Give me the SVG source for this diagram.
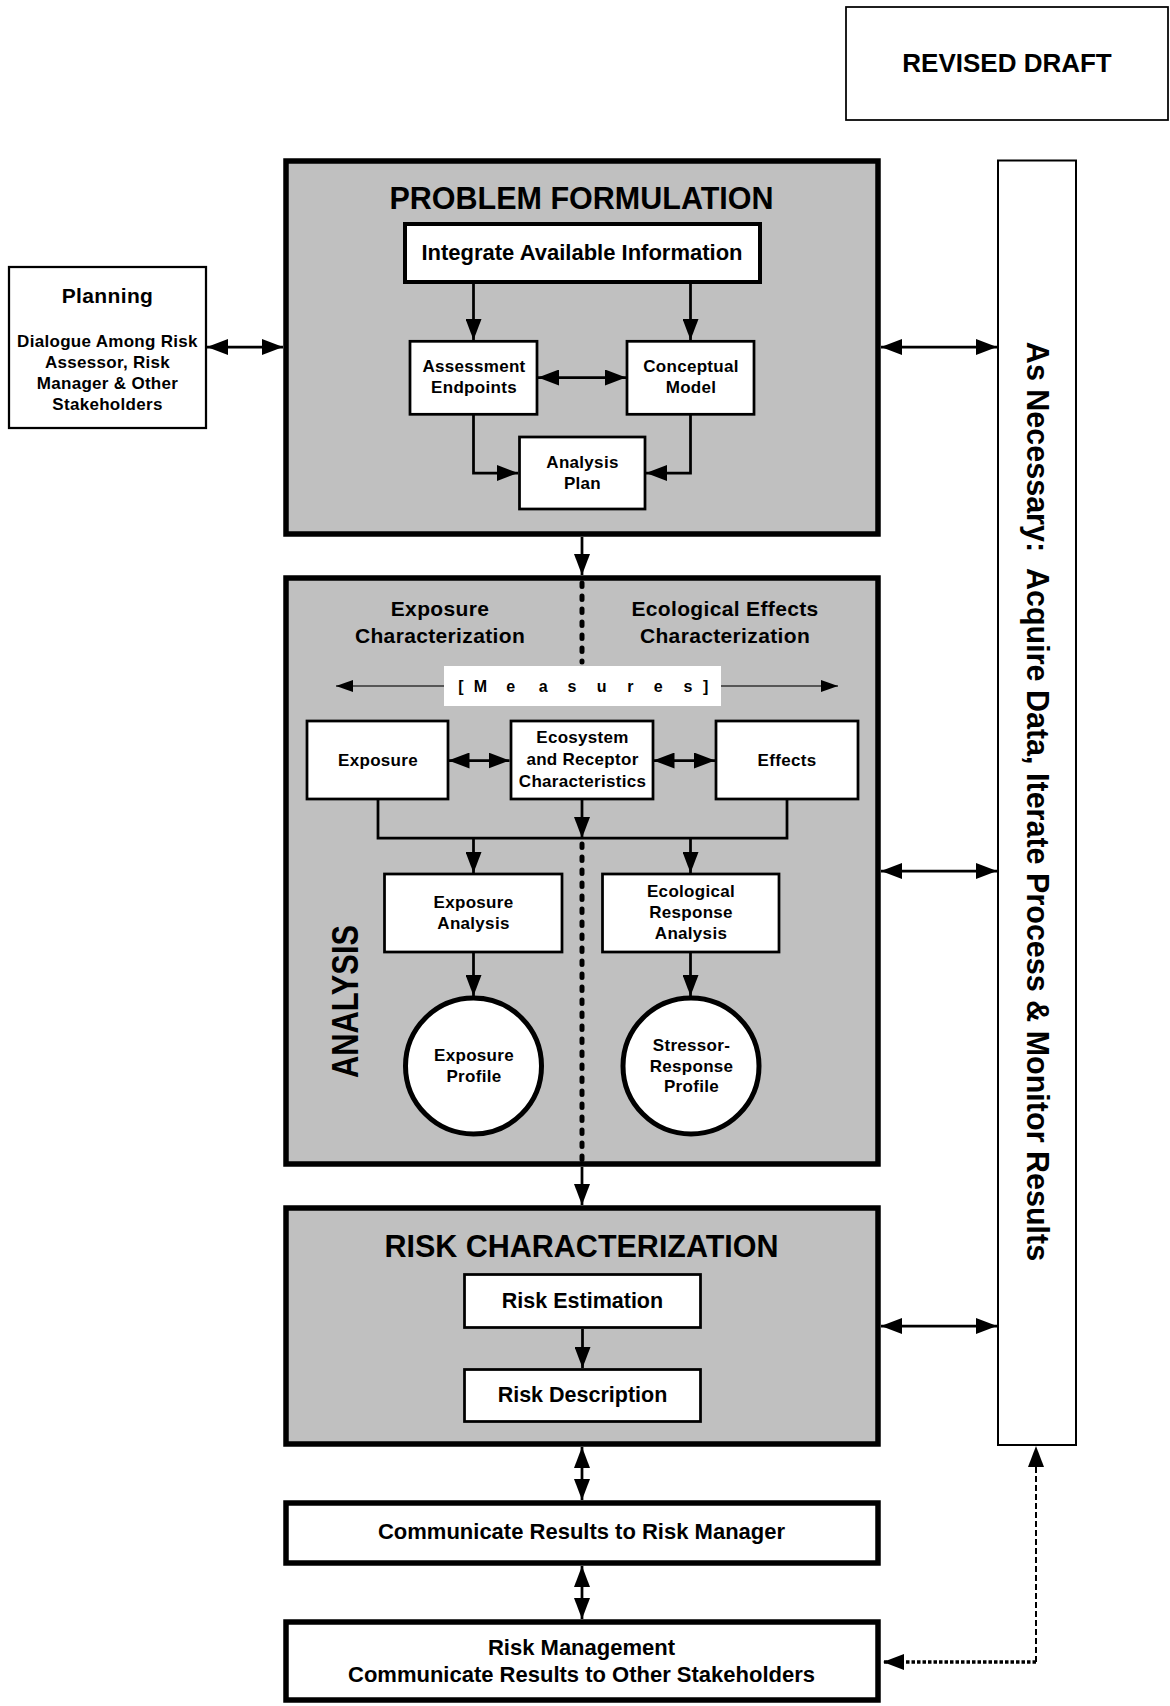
<svg xmlns="http://www.w3.org/2000/svg" width="1170" height="1706" viewBox="0 0 1170 1706">
<defs>
<style>
text{font-family:"Liberation Sans",Arial,sans-serif;font-weight:bold;fill:#000;text-anchor:middle}
.big{fill:#c0c0c0;stroke:#000;stroke-width:5.5}
.thickw{fill:#fff;stroke:#000;stroke-width:5.5}
.box{fill:#fff;stroke:#000;stroke-width:2.75}
.ln{fill:none;stroke:#000;stroke-width:2.75}
.s16{font-size:17px;letter-spacing:0.3px}
.s20{font-size:21px;letter-spacing:0.35px}
.s22{font-size:22px}
.title{font-size:30.5px}
</style>
<marker id="ah" markerUnits="userSpaceOnUse" viewBox="0 0 21 16" markerWidth="21" markerHeight="16" refX="21" refY="8" orient="auto-start-reverse"><path d="M0,0 L21,8 L0,16 z" fill="#000" stroke="none"/></marker>
<marker id="ahs" markerUnits="userSpaceOnUse" viewBox="0 0 17 12" markerWidth="17" markerHeight="12" refX="17" refY="6" orient="auto-start-reverse"><path d="M0,0 L17,6 L0,12 z" fill="#000" stroke="none"/></marker>
</defs>
<rect width="1170" height="1706" fill="#fff"/>

<g id="revised-draft">
<rect x="846" y="7" width="322" height="113" fill="#fff" stroke="#000" stroke-width="1.75"/>
<text x="1007" y="72" style="font-size:26px">REVISED DRAFT</text>
</g>

<g id="problem-formulation">
<rect class="big" x="286" y="161" width="592" height="373"/>
<text class="title" x="581.5" y="209">PROBLEM FORMULATION</text>
</g>

<g id="analysis">
<rect class="big" x="286" y="578" width="592" height="586"/>
<text transform="translate(358,1001.5) rotate(-90)" x="0" y="0" style="font-size:36px" textLength="153" lengthAdjust="spacingAndGlyphs">ANALYSIS</text>
<text class="s20" x="440" y="616">Exposure</text>
<text class="s20" x="440" y="643">Characterization</text>
<text class="s20" x="725" y="616">Ecological Effects</text>
<text class="s20" x="725" y="643">Characterization</text>
</g>

<g id="risk-characterization">
<rect class="big" x="286" y="1208" width="592" height="236"/>
<text class="title" x="581.5" y="1257">RISK CHARACTERIZATION</text>
</g>

<g id="communicate-risk-manager">
<rect class="thickw" x="286" y="1503" width="592" height="60"/>
<text class="s22" x="581.5" y="1539">Communicate Results to Risk Manager</text>
</g>

<g id="risk-management">
<rect class="thickw" x="286" y="1622" width="592" height="78"/>
<text class="s22" x="581.5" y="1655">Risk Management</text>
<text class="s22" x="581.5" y="1681.5">Communicate Results to Other Stakeholders</text>
</g>

<g id="as-necessary">
<rect x="998" y="160.5" width="78" height="1284.5" fill="#fff" stroke="#000" stroke-width="2"/>
<text transform="translate(1027,801.5) rotate(90)" x="0" y="0" style="font-size:30.5px" xml:space="preserve">As Necessary:  Acquire Data, Iterate Process &amp; Monitor Results</text>
</g>

<g id="planning">
<rect x="9" y="267" width="197" height="161" fill="#fff" stroke="#000" stroke-width="2.25"/>
<text class="s20" x="107.5" y="303">Planning</text>
<text class="s16" x="107.5" y="347">Dialogue Among Risk</text>
<text class="s16" x="107.5" y="368">Assessor, Risk</text>
<text class="s16" x="107.5" y="389">Manager &amp; Other</text>
<text class="s16" x="107.5" y="410">Stakeholders</text>
</g>

<g id="integrate-info">
<rect x="405" y="224" width="355" height="58" fill="#fff" stroke="#000" stroke-width="4"/>
<text class="s22" x="582" y="260">Integrate Available Information</text>
</g>

<g id="assessment-endpoints">
<rect class="box" x="410" y="341.3" width="127" height="73"/>
<text class="s16" x="474" y="372">Assessment</text>
<text class="s16" x="474" y="392.5">Endpoints</text>
</g>

<g id="conceptual-model">
<rect class="box" x="627" y="341.3" width="127" height="73"/>
<text class="s16" x="691" y="372">Conceptual</text>
<text class="s16" x="691" y="393">Model</text>
</g>

<g id="analysis-plan">
<rect class="box" x="519.5" y="437" width="125.5" height="72"/>
<text class="s16" x="582.5" y="468">Analysis</text>
<text class="s16" x="582.5" y="488.5">Plan</text>
</g>

<g id="measures">
<rect x="444" y="666" width="277" height="40" fill="#fff"/>
<text style="font-size:16px" y="692" x="460.8 470.5 480.3 495.5 510.7 527 543.3 557.7 572 587 601.7 616 630.3 644.3 658.3 673.2 688 697 705.7">[ M e a s u r e s ]</text>
</g>

<g id="exposure">
<rect class="box" x="307" y="721" width="141" height="78"/>
<text class="s16" x="378" y="765.5">Exposure</text>
</g>

<g id="ecosystem-receptor">
<rect class="box" x="511" y="721" width="142" height="78"/>
<text class="s16" x="582.5" y="743">Ecosystem</text>
<text class="s16" x="582.5" y="765">and Receptor</text>
<text class="s16" x="582.5" y="787">Characteristics</text>
</g>

<g id="effects">
<rect class="box" x="716" y="721" width="142" height="78"/>
<text class="s16" x="787" y="765.5">Effects</text>
</g>

<g id="exposure-analysis">
<rect class="box" x="384.5" y="874" width="177.5" height="78"/>
<text class="s16" x="473.5" y="908">Exposure</text>
<text class="s16" x="473.5" y="928.5">Analysis</text>
</g>

<g id="ecological-response-analysis">
<rect class="box" x="602.5" y="874" width="176.5" height="78"/>
<text class="s16" x="691" y="897">Ecological</text>
<text class="s16" x="691" y="918">Response</text>
<text class="s16" x="691" y="939">Analysis</text>
</g>

<g id="exposure-profile">
<circle cx="473.5" cy="1066" r="68" fill="#fff" stroke="#000" stroke-width="5"/>
<text class="s16" x="474" y="1061">Exposure</text>
<text class="s16" x="474" y="1082">Profile</text>
</g>

<g id="stressor-response-profile">
<circle cx="691" cy="1066" r="68" fill="#fff" stroke="#000" stroke-width="5"/>
<text class="s16" x="691.5" y="1051">Stressor-</text>
<text class="s16" x="691.5" y="1071.5">Response</text>
<text class="s16" x="691.5" y="1092">Profile</text>
</g>

<g id="risk-estimation">
<rect class="box" x="464.5" y="1274.5" width="236" height="53"/>
<text x="582.5" y="1308" style="font-size:21.5px">Risk Estimation</text>
</g>

<g id="risk-description">
<rect class="box" x="464.5" y="1369.5" width="236" height="52"/>
<text x="582.5" y="1402" style="font-size:21.5px">Risk Description</text>
</g>

<g id="connectors">
<path class="ln" d="M473.5,284 V340" marker-end="url(#ah)"/>
<path class="ln" d="M690.5,284 V340" marker-end="url(#ah)"/>
<path class="ln" d="M538,377.5 H626" marker-start="url(#ah)" marker-end="url(#ah)"/>
<path class="ln" d="M473.5,415 V473 H518" marker-end="url(#ah)"/>
<path class="ln" d="M690.5,415 V473 H646" marker-end="url(#ah)"/>
<path class="ln" d="M207,347 H283" marker-start="url(#ah)" marker-end="url(#ah)"/>
<path class="ln" d="M881,347 H997" marker-start="url(#ah)" marker-end="url(#ah)"/>
<path class="ln" d="M582,537 V575" marker-end="url(#ah)"/>
<path d="M582,583 V662" fill="none" stroke="#000" stroke-width="5" stroke-linecap="round" stroke-dasharray="3.5 9.5"/>
<path d="M582,844 V1162" fill="none" stroke="#000" stroke-width="5" stroke-linecap="round" stroke-dasharray="3.5 9.5"/>
<path d="M444,686 H336" fill="none" stroke="#333" stroke-width="1.5" marker-end="url(#ahs)"/>
<path d="M721,686 H838" fill="none" stroke="#333" stroke-width="1.5" marker-end="url(#ahs)"/>
<path class="ln" d="M448.5,760.5 H509.5" marker-start="url(#ah)" marker-end="url(#ah)"/>
<path class="ln" d="M653.5,760.5 H715" marker-start="url(#ah)" marker-end="url(#ah)"/>
<path class="ln" d="M378,799 V838 H787 V799"/>
<path class="ln" d="M582,799 V838" marker-end="url(#ah)"/>
<path class="ln" d="M473.5,838 V873" marker-end="url(#ah)"/>
<path class="ln" d="M690.5,838 V873" marker-end="url(#ah)"/>
<path class="ln" d="M473.5,953 V996" marker-end="url(#ah)"/>
<path class="ln" d="M690.5,953 V996" marker-end="url(#ah)"/>
<path class="ln" d="M881,871 H997" marker-start="url(#ah)" marker-end="url(#ah)"/>
<path class="ln" d="M582,1167 V1205" marker-end="url(#ah)"/>
<path class="ln" d="M582.5,1329 V1368" marker-end="url(#ah)"/>
<path class="ln" d="M881,1326 H997" marker-start="url(#ah)" marker-end="url(#ah)"/>
<path class="ln" d="M582,1447 V1500" marker-start="url(#ah)" marker-end="url(#ah)"/>
<path class="ln" d="M582,1566 V1619" marker-start="url(#ah)" marker-end="url(#ah)"/>
<path d="M1036,1662 V1446" fill="none" stroke="#000" stroke-width="2" stroke-dasharray="6 3" marker-end="url(#ah)"/>
<path d="M1036,1662 H883" fill="none" stroke="#000" stroke-width="3.5" stroke-dasharray="3.5 2" marker-end="url(#ah)"/>
</g>
</svg>
